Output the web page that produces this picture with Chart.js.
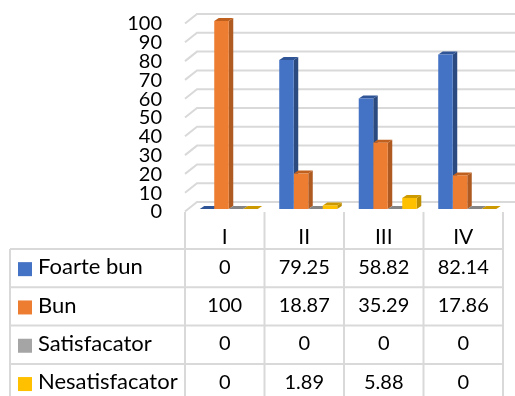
<!DOCTYPE html>
<html lang="ro">
<head>
    <meta charset="UTF-8">
    <title>Chart</title>
    <script src="https://cdn.jsdelivr.net/npm/chart.js"></script>
    <style>
        html, body {margin: 0; padding: 0; background: #fff; overflow: hidden;}
        #myChart {display: block;}
    </style>
</head>
<body>
    <canvas id="myChart" width="515" height="396"></canvas>
    <script>
        const categories = ["I", "II", "III", "IV"];
        const seriesNames = ["Foarte bun", "Bun", "Satisfacator", "Nesatisfacator"];
        const foarteBun = [0, 79.25, 58.82, 82.14];
        const bun = [100, 18.87, 35.29, 17.86];
        const satisfacator = [0, 0, 0, 0];
        const nesatisfacator = [0, 1.89, 5.88, 0];
        const seriesValues = [foarteBun, bun, satisfacator, nesatisfacator];
        const frontColors = ["#4472c4", "#ed7d31", "#a5a5a5", "#ffc000"];
        const sideColors = ["#2b4a80", "#ae5a21", "#7a7a7a", "#bd8e00"];
        const topColors = ["#2f5597", "#c0601f", "#858585", "#cc9a00"];

        const font = "Lato, Carlito, sans-serif";
        const lineColor = "#d9d9d9";

        // fake 3d box: gridlines, then side and top of every bar, fronts come after from the library
        const box3d = {
            id: "box3d",
            beforeDatasetsDraw(chart) {
                const c = chart.ctx, y = chart.scales.y, dx = 4.5, dy = 3;
                c.save();
                c.strokeStyle = lineColor;
                c.lineWidth = 2;
                y.ticks.forEach(function(t) {
                    const py = y.getPixelForValue(t.value);
                    c.beginPath();
                    c.moveTo(185, py + 2.5);
                    c.lineTo(197, py - 7);
                    c.lineTo(515, py - 7);
                    c.stroke();
                });
                seriesNames.forEach(function(name, i) {
                    chart.getDatasetMeta(i).data.forEach(function(bar) {
                        const l = bar.x - bar.width / 2, r = bar.x + bar.width / 2;
                        c.fillStyle = sideColors[i];
                        c.beginPath();
                        c.moveTo(r, bar.y);
                        c.lineTo(r + dx, bar.y - dy);
                        c.lineTo(r + dx, bar.base - dy);
                        c.lineTo(r, bar.base);
                        c.closePath();
                        c.fill();
                        c.fillStyle = topColors[i];
                        c.beginPath();
                        c.moveTo(l, bar.y);
                        c.lineTo(l + dx, bar.y - dy);
                        c.lineTo(r + dx, bar.y - dy);
                        c.lineTo(r, bar.y);
                        c.closePath();
                        c.fill();
                    });
                });
                c.restore();
            }
        };

        // data table under the chart
        const dataTable = {
            id: "dataTable",
            afterDraw(chart) {
                const c = chart.ctx, x = chart.scales.x;
                const colW = x.width / categories.length;
                const rowTop = 249, rowH = 38.3, left = 10, bottom = 396;
                const edge = function(i) { return x.left - 4 + colW * i; };
                c.save();
                c.strokeStyle = lineColor;
                c.lineWidth = 2;
                c.beginPath();
                for (let i = 0; i <= categories.length; i++) {
                    c.moveTo(edge(i), 212);
                    c.lineTo(edge(i), bottom);
                }
                c.moveTo(left, rowTop);
                c.lineTo(left, bottom);
                for (let r = 0; r < seriesNames.length; r++) {
                    c.moveTo(left, rowTop + rowH * r);
                    c.lineTo(edge(categories.length), rowTop + rowH * r);
                }
                c.stroke();
                c.textBaseline = "middle";
                seriesNames.forEach(function(name, r) {
                    const cy = rowTop + rowH * r + rowH / 2;
                    c.fillStyle = frontColors[r];
                    c.fillRect(18, cy - 6, 14, 14);
                    c.fillStyle = "#000";
                    c.font = "22px " + font;
                    c.textAlign = "left";
                    c.fillText(name, 38, cy - 1);
                    c.font = "20px " + font;
                    c.textAlign = "center";
                    seriesValues[r].forEach(function(v, k) {
                        c.fillText(String(v), edge(k) + colW / 2, cy - 1);
                    });
                });
                c.restore();
            }
        };

        new Chart(document.getElementById("myChart"), {
            type: "bar",
            data: {
                labels: categories,
                datasets: seriesNames.map(function(name, i) {
                    return {
                        label: name,
                        data: seriesValues[i],
                        backgroundColor: frontColors[i],
                        borderWidth: 0,
                        barPercentage: 1,
                        categoryPercentage: 0.73
                    };
                })
            },
            options: {
                responsive: false,
                animation: false,
                layout: {padding: {top: 21, right: 8, left: 0, bottom: 0}},
                plugins: {legend: {display: false}, tooltip: {enabled: false}},
                scales: {
                    x: {
                        grid: {display: false},
                        border: {display: false},
                        afterFit(scale) { scale.height = 187; },
                        ticks: {
                            color: "#000",
                            padding: 8,
                            labelOffset: -4,
                            maxRotation: 0,
                            font: {family: font, size: 21}
                        }
                    },
                    y: {
                        min: 0,
                        max: 100,
                        grid: {display: false, drawTicks: false},
                        border: {display: false},
                        afterFit(scale) {
                            scale.width = 189;
                            scale.paddingTop = 0;
                            scale.paddingBottom = 0;
                        },
                        ticks: {
                            stepSize: 10,
                            autoSkip: false,
                            color: "#000",
                            padding: 27,
                            labelOffset: 3,
                            font: {family: font, size: 20}
                        }
                    }
                }
            },
            plugins: [box3d, dataTable]
        });
    </script>
</body>
</html>
